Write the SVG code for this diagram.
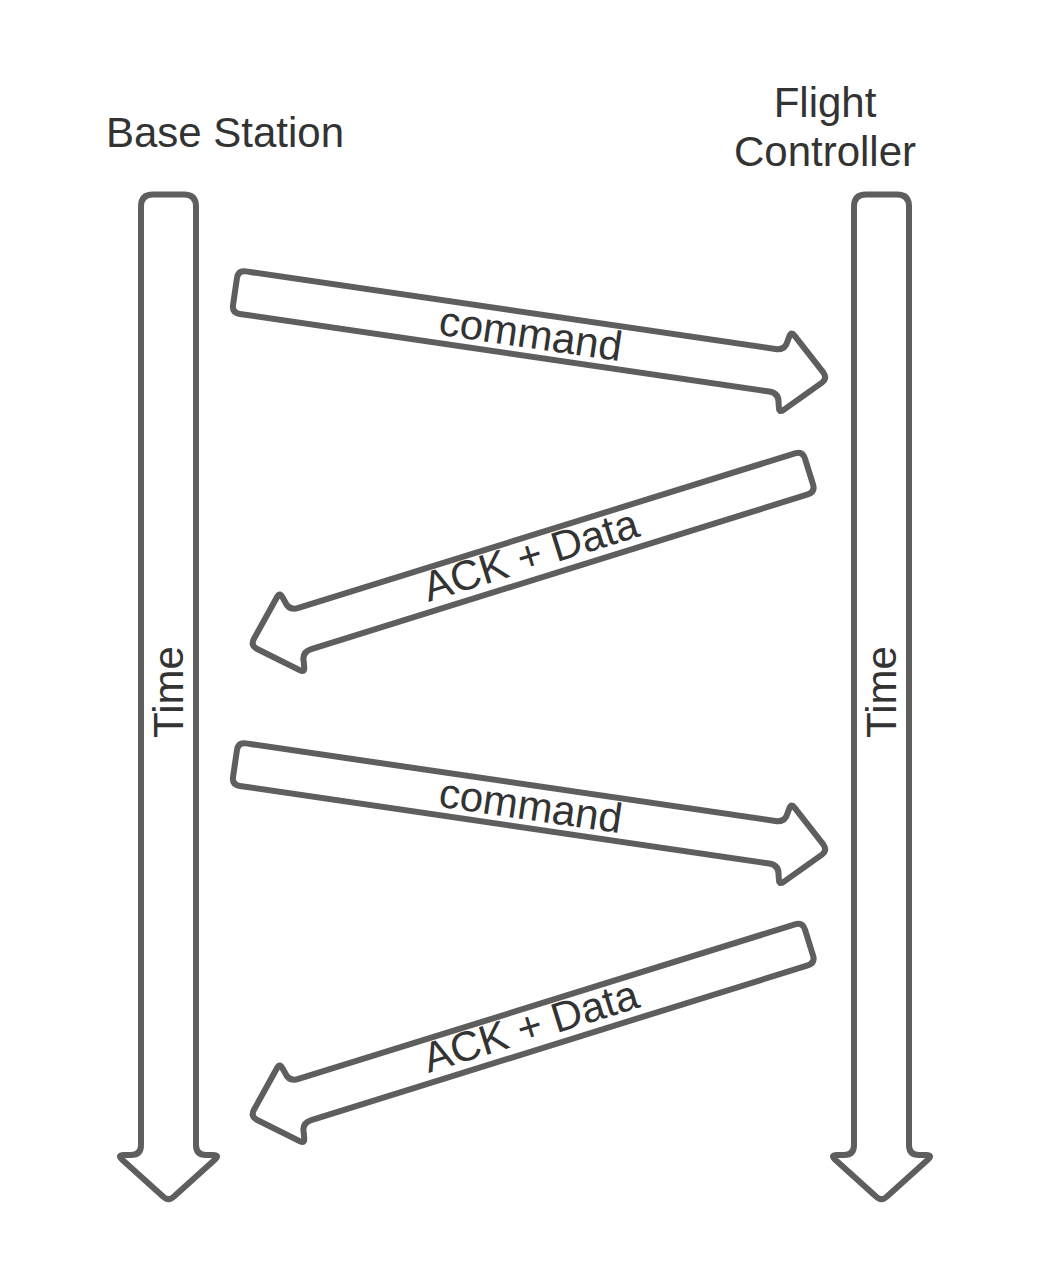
<svg xmlns="http://www.w3.org/2000/svg" width="1050" height="1281" viewBox="0 0 1050 1281">
<defs>
<style>
.shape{fill:#ffffff;stroke:#5e5e5e;stroke-width:6;stroke-linejoin:round}
.lbl{font-family:"Liberation Sans",Arial,sans-serif;font-size:42px;fill:#333333;text-anchor:middle}
</style>
<path id="timeArrow" d="M153,194.5 L184,194.5 Q196,194.5 196,206.5 L196,1145 Q196,1155 206,1155 L213,1155 Q220,1155 215,1159.5 L174,1196.5 Q168.5,1202 163,1196.5 L122,1159.5 Q117,1155 124,1155 L131,1155 Q141,1155 141,1145 L141,206.5 Q141,194.5 153,194.5 Z"/>
<path id="cmdArrow" d="M8,-21.5 L543,-21.5 Q553,-21.5 554,-31.5 L555,-36 Q556,-41.5 560,-37.5 L594,-5 Q599,0 594,5 L560,37.5 Q556,41.5 555,36 L554,31.5 Q553,21.5 543,21.5 L8,21.5 Q0,21.5 0,13.5 L0,-13.5 Q0,-21.5 8,-21.5 Z"/>
<path id="ackArrow" d="M8,-21.5 L528,-21.5 Q538,-21.5 539,-31.5 L540,-36 Q541,-42.5 545,-38.5 L580,-5 Q585,0 580,5 L545,38.5 Q541,42.5 540,36 L539,31.5 Q538,21.5 528,21.5 L8,21.5 Q0,21.5 0,13.5 L0,-13.5 Q0,-21.5 8,-21.5 Z"/>
</defs>
<rect width="1050" height="1281" fill="#ffffff"/>
<g id="base-station">
<text class="lbl" x="225" y="147">Base Station</text>
</g>
<g id="flight-controller">
<text class="lbl" x="825" y="117">Flight</text>
<text class="lbl" x="825" y="166">Controller</text>
</g>
<g id="time-left">
<use href="#timeArrow" class="shape"/>
<text class="lbl" transform="translate(168.5,692) rotate(-90)" y="14">Time</text>
</g>
<g id="time-right">
<use href="#timeArrow" class="shape" transform="translate(713,0)"/>
<text class="lbl" transform="translate(881.5,692) rotate(-90)" y="14">Time</text>
</g>
<g id="connectors">
<g id="command-1">
<use href="#cmdArrow" class="shape" transform="translate(235,291.5) rotate(8.34)"/>
<text class="lbl" transform="translate(530.5,335) rotate(8.34)" y="13">command</text>
</g>
<g id="ack-1">
<use href="#ackArrow" class="shape" transform="translate(809,471.5) rotate(162.7)"/>
<text class="lbl" transform="translate(531,556.5) rotate(-17.3)" y="13">ACK + Data</text>
</g>
<g id="command-2">
<use href="#cmdArrow" class="shape" transform="translate(235,763.5) rotate(8.34)"/>
<text class="lbl" transform="translate(530.5,807) rotate(8.34)" y="13">command</text>
</g>
<g id="ack-2">
<use href="#ackArrow" class="shape" transform="translate(809,942.5) rotate(162.7)"/>
<text class="lbl" transform="translate(531,1027.5) rotate(-17.3)" y="13">ACK + Data</text>
</g>
</g>
</svg>
